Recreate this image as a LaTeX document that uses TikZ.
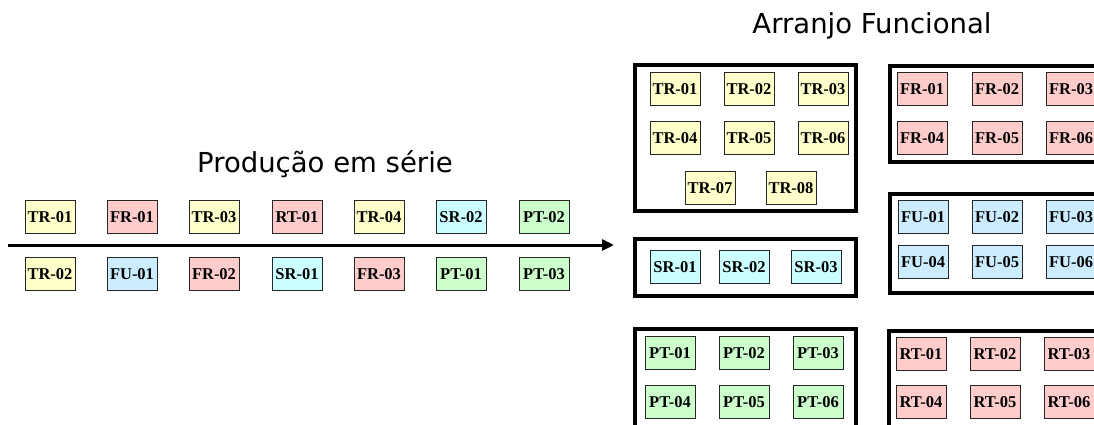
\documentclass[tikz,border=0pt]{standalone}
\usepackage{fontspec}
\setmainfont{Liberation Serif}
\newfontfamily\titlefont{DejaVu Sans}
\usetikzlibrary{arrows.meta}
\definecolor{cyel}{HTML}{FFFFCC}
\definecolor{cpink}{HTML}{FFCCCC}
\definecolor{cblue}{HTML}{CCECFF}
\definecolor{ccyan}{HTML}{CCFFFF}
\definecolor{cgreen}{HTML}{CCFFCC}
\tikzset{
  mbox/.style={draw=black!85, line width=1pt, minimum width=50pt, minimum height=33pt, inner sep=0pt,
    font=\fontsize{16.5}{16.5}\selectfont\bfseries},
  yel/.style={mbox, fill=cyel},
  pnk/.style={mbox, fill=cpink},
  blu/.style={mbox, fill=cblue},
  cya/.style={mbox, fill=ccyan},
  grn/.style={mbox, fill=cgreen},
  grp/.style={draw=black, line width=4pt},
  ttl/.style={font=\titlefont\fontsize{27.5}{27.5}\selectfont, inner sep=0pt}
}
\begin{document}
\begin{tikzpicture}[x=1pt, y=-1pt]
\useasboundingbox (0,0) rectangle (1094,425);
\clip (0,0) rectangle (1094,425);
% titles
\node[ttl] (t1) at (325,164) {Produção em série};
\node[ttl] (t2) at (872,26) {Arranjo Funcional};
% series line
\coordinate (as) at (8,245);
\coordinate (ae) at (614,245);
\draw[line width=3pt, -{Triangle[length=12pt,width=11pt]}] (as) -- (ae);
% series row 1
\node[yel] (s1) at (50,217) {TR-01};
\node[pnk] (s2) at (132,217) {FR-01};
\node[yel] (s3) at (214,217) {TR-03};
\node[pnk] (s4) at (297,217) {RT-01};
\node[yel] (s5) at (379,217) {TR-04};
\node[cya] (s6) at (461,217) {SR-02};
\node[grn] (s7) at (544,217) {PT-02};
% series row 2
\node[yel] (r1) at (50,274) {TR-02};
\node[blu] (r2) at (132,274) {FU-01};
\node[pnk] (r3) at (214,274) {FR-02};
\node[cya] (r4) at (297,274) {SR-01};
\node[pnk] (r5) at (379,274) {FR-03};
\node[grn] (r6) at (461,274) {PT-01};
\node[grn] (r7) at (544,274) {PT-03};
% group rectangles
\draw[grp] (635,65) rectangle (856,211);
\draw[grp] (890,66) rectangle (1110,162);
\draw[grp] (890,194) rectangle (1110,293);
\draw[grp] (635,239) rectangle (856,296);
\draw[grp] (635,329) rectangle (856,440);
\draw[grp] (889,331) rectangle (1110,440);
% TR group
\node[yel] (tr1) at (675,89) {TR-01};
\node[yel] (tr2) at (749,89) {TR-02};
\node[yel] (tr3) at (823,89) {TR-03};
\node[yel] (tr4) at (675,138) {TR-04};
\node[yel] (tr5) at (749,138) {TR-05};
\node[yel] (tr6) at (823,138) {TR-06};
\node[yel] (tr7) at (710,188) {TR-07};
\node[yel] (tr8) at (791,188) {TR-08};
% FR group
\node[pnk] (fr1) at (922,89) {FR-01};
\node[pnk] (fr2) at (997,89) {FR-02};
\node[pnk] (fr3) at (1071,89) {FR-03};
\node[pnk] (fr4) at (922,138) {FR-04};
\node[pnk] (fr5) at (997,138) {FR-05};
\node[pnk] (fr6) at (1071,138) {FR-06};
% FU group
\node[blu] (fu1) at (923,217) {FU-01};
\node[blu] (fu2) at (997,217) {FU-02};
\node[blu] (fu3) at (1071,217) {FU-03};
\node[blu] (fu4) at (923,262) {FU-04};
\node[blu] (fu5) at (997,262) {FU-05};
\node[blu] (fu6) at (1071,262) {FU-06};
% SR group
\node[cya] (sr1) at (675,267) {SR-01};
\node[cya] (sr2) at (744,267) {SR-02};
\node[cya] (sr3) at (816,267) {SR-03};
% PT group
\node[grn] (pt1) at (670,353) {PT-01};
\node[grn] (pt2) at (744,353) {PT-02};
\node[grn] (pt3) at (818,353) {PT-03};
\node[grn] (pt4) at (670,402) {PT-04};
\node[grn] (pt5) at (744,402) {PT-05};
\node[grn] (pt6) at (818,402) {PT-06};
% RT group
\node[pnk] (rt1) at (921,354) {RT-01};
\node[pnk] (rt2) at (995,354) {RT-02};
\node[pnk] (rt3) at (1069,354) {RT-03};
\node[pnk] (rt4) at (921,402) {RT-04};
\node[pnk] (rt5) at (995,402) {RT-05};
\node[pnk] (rt6) at (1069,402) {RT-06};
\end{tikzpicture}
\end{document}
